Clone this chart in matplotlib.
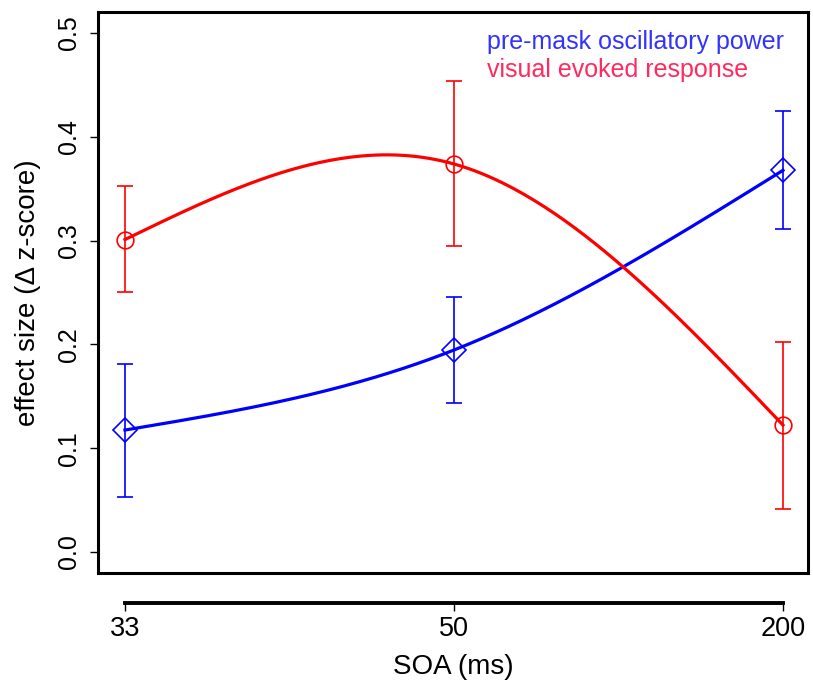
import numpy as np
import matplotlib
matplotlib.use("Agg")
import matplotlib.pyplot as plt

plt.rcParams['font.family'] = ['Liberation Sans', 'DejaVu Sans']

soa_labels = ["33", "50", "200"]
soa_pos = [0, 1, 2]

power_mean = [0.1175, 0.1946, 0.3677]
power_low = [0.0533, 0.1439, 0.3109]
power_high = [0.1811, 0.2454, 0.4252]

erp_mean = [0.3010, 0.3738, 0.1223]
erp_low = [0.2505, 0.2951, 0.0414]
erp_high = [0.3529, 0.4538, 0.2026]

series_names = ["pre-mask oscillatory power", "visual evoked response"]


def natural_spline(x, y, n=200):
    x = np.asarray(x, float)
    y = np.asarray(y, float)
    m = len(x)
    h = np.diff(x)
    A = np.zeros((m, m))
    r = np.zeros(m)
    A[0, 0] = 1
    A[-1, -1] = 1
    for i in range(1, m - 1):
        A[i, i - 1] = h[i - 1]
        A[i, i] = 2 * (h[i - 1] + h[i])
        A[i, i + 1] = h[i]
        r[i] = 6 * ((y[i + 1] - y[i]) / h[i] - (y[i] - y[i - 1]) / h[i - 1])
    M = np.linalg.solve(A, r)
    xs = np.linspace(x[0], x[-1], n)
    ys = np.empty_like(xs)
    for k, t in enumerate(xs):
        i = min(np.searchsorted(x, t, side='right') - 1, m - 2)
        hi = h[i]
        a = (x[i + 1] - t)
        b = (t - x[i])
        ys[k] = (M[i] * a**3 / (6 * hi) + M[i + 1] * b**3 / (6 * hi)
                 + (y[i] / hi - M[i] * hi / 6) * a
                 + (y[i + 1] / hi - M[i + 1] * hi / 6) * b)
    return xs, ys


W, H = 813, 682
fig = plt.figure(figsize=(W / 100, H / 100), dpi=100)
L, R, T, B = 98, 808, 12, 573
ax = fig.add_axes([L / W, 1 - B / H, (R - L) / W, (B - T) / H])

xlim = (-0.082, 2.076)
ax.set_xlim(*xlim)
ax.set_ylim(-0.0202, 0.5202)

blue = '#0000ff'
red = '#ff0000'

for mean, lo, hi, col, mk in [(power_mean, power_low, power_high, blue, 'D'),
                              (erp_mean, erp_low, erp_high, red, 'o')]:
    xs, ys = natural_spline(soa_pos, mean)
    ax.plot(xs, ys, color=col, lw=2.3, zorder=3)
    yerr = [np.array(mean) - np.array(lo), np.array(hi) - np.array(mean)]
    ax.errorbar(soa_pos, mean, yerr=yerr, fmt='none', ecolor=col,
                elinewidth=1.2, capsize=5.5, capthick=1.2, zorder=2)
    ax.plot(soa_pos, mean, linestyle='none', marker=mk, ms=12 if mk == 'o' else 12.5,
            mfc='none', mec=col, mew=1.2, zorder=4)

for s in ax.spines.values():
    s.set_linewidth(2.2)
ax.set_xticks([])
ax.set_yticks([0.0, 0.1, 0.2, 0.3, 0.4, 0.5])
ax.set_yticklabels(["0.0", "0.1", "0.2", "0.3", "0.4", "0.5"])
ax.tick_params(axis='y', length=6, width=1, pad=6, labelsize=18)
for lab in ax.get_yticklabels():
    lab.set_rotation(90)
    lab.set_va('center')
ax.set_ylabel("effect size (Δ z-score)", fontsize=20, labelpad=12)

# separate x axis below the box
y_ax = 603
ax2 = fig.add_axes([L / W, 1 - y_ax / H, (R - L) / W, 0.0001])
ax2.set_xlim(*xlim)
ax2.set_yticks([])
for k in ['top', 'left', 'right']:
    ax2.spines[k].set_visible(False)
ax2.spines['bottom'].set_bounds(0, 2)
ax2.spines['bottom'].set_linewidth(2.8)
ax2.patch.set_visible(False)
ax2.set_xticks(soa_pos)
ax2.set_xticklabels(soa_labels)
ax2.tick_params(axis='x', length=6, width=1, pad=3, labelsize=19.5)
ax2.set_xlabel("SOA (ms)", fontsize=20, labelpad=9)

fig.text(487 / W, 1 - 49 / H, series_names[0], color='#3333ff', fontsize=18,
         ha='left', va='baseline')
fig.text(487 / W, 1 - 77 / H, series_names[1], color='#ff2a5f', fontsize=18,
         ha='left', va='baseline')

fig.savefig("out.png", dpi=100)
